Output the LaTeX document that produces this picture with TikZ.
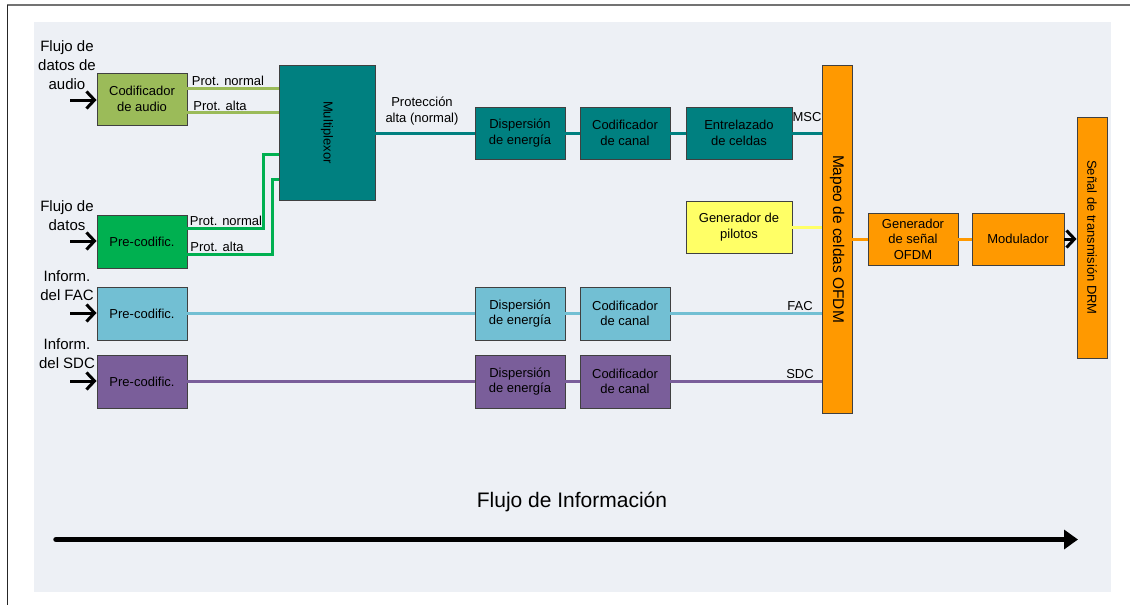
\documentclass[tikz,border=0pt]{standalone}
\usepackage{fontspec}
\setmainfont{Liberation Sans}
\usetikzlibrary{arrows.meta}
\definecolor{bgc}{HTML}{EDF0F5}
\definecolor{olive}{HTML}{9BBB59}
\definecolor{grn}{HTML}{00B050}
\definecolor{teal}{HTML}{008080}
\definecolor{lblue}{HTML}{72BFD3}
\definecolor{purp}{HTML}{7A5E9A}
\definecolor{orng}{HTML}{FF9900}
\definecolor{yell}{HTML}{FFFF66}
\tikzset{
  blk/.style={draw=black!75, line width=0.9pt, align=center, inner sep=0pt,
    minimum width=90pt, minimum height=52pt, font=\fontsize{13}{15.5}\selectfont},
  lbl/.style={font=\fontsize{13}{15.5}\selectfont, inner sep=0pt, align=center},
  inlbl/.style={font=\fontsize{15}{19}\selectfont, inner sep=0pt, align=center},
  conn/.style={line width=3pt},
  inarrow/.style={line width=3pt, -{Straight Barb[length=8pt,width=17pt,line width=3pt]}},
}
\begin{document}
\begin{tikzpicture}[x=1pt,y=-1pt]
\useasboundingbox (0,0) rectangle (1130,605);
% frame and background
\fill[bgc] (34,22) rectangle (1111,592);
\draw[black!55, line width=2pt] (7,5) -- (1130,5);
\draw[black!85, line width=1pt] (7,5) -- (7,605);

% boxes
\node[blk, fill=olive] (aud) at (142,99) {Codificador\\de audio};
\node[blk, fill=teal, minimum width=96pt, minimum height=135pt] (mux) at (327,132.5)
  {\rotatebox{-90}{\fontsize{13}{15}\selectfont Multiplexor}};
\node[blk, fill=grn, minimum height=53pt] (pcd) at (142,241.5) {Pre-codific.};
\node[blk, fill=lblue, minimum height=53pt] (pcf) at (142,313.5) {Pre-codific.};
\node[blk, fill=purp, minimum height=53pt] (pcs) at (142,381.5) {Pre-codific.};

\node[blk, fill=teal] (de1) at (520,133) {Dispersión\\de energía};
\node[blk, fill=teal] (cc1) at (625,133) {Codificador\\de canal};
\node[blk, fill=teal, minimum width=106pt] (ent) at (739,133) {Entrelazado\\de celdas};

\node[blk, fill=yell, minimum width=106pt] (pil) at (739,227) {Generador de\\pilotos};

\node[blk, fill=lblue, minimum height=53pt] (de2) at (520,313.5) {Dispersión\\de energía};
\node[blk, fill=lblue, minimum height=53pt] (cc2) at (625,313.5) {Codificador\\de canal};
\node[blk, fill=purp, minimum height=53pt] (de3) at (520,381.5) {Dispersión\\de energía};
\node[blk, fill=purp, minimum height=53pt] (cc3) at (625,381.5) {Codificador\\de canal};

\node[blk, fill=orng, minimum width=30pt, minimum height=348pt] (map) at (837,239)
  {\rotatebox{-90}{\fontsize{15.5}{18}\selectfont Mapeo de celdas OFDM}};
\node[blk, fill=orng] (gen) at (913,239) {Generador\\de señal\\OFDM};
\node[blk, fill=orng, minimum width=92pt] (mod) at (1018,239) {Modulador};
\node[blk, fill=orng, minimum width=30pt, minimum height=241pt] (drm) at (1092,237.5)
  {\rotatebox{-90}{\fontsize{13}{15}\selectfont Señal de transmisión DRM}};

% input labels
\node[inlbl] (l1) at (67,65) {Flujo de\\datos de\\audio};
\node[inlbl] (l2) at (67,215.5) {Flujo de\\datos};
\node[inlbl] (l3) at (67,286) {Inform.\\del FAC};
\node[inlbl] (l4) at (67,353.5) {Inform.\\del SDC};

% input arrows
\coordinate (i1) at (70,100);
\coordinate (i2) at (70,241);
\coordinate (i3) at (70,313);
\coordinate (i4) at (70,381);
\draw[inarrow] (i1) -- (aud.west |- i1);
\draw[inarrow] (i2) -- (pcd.west |- i2);
\draw[inarrow] (i3) -- (pcf.west |- i3);
\draw[inarrow] (i4) -- (pcs.west |- i4);

% audio connectors
\draw[conn, olive] (aud.east |- 0,88) -- (mux.west |- 0,88);
\draw[conn, olive] (aud.east |- 0,112) -- (mux.west |- 0,112);
\node[lbl] (pn1) at (228,81) {Prot. normal};
\node[lbl] (pa1) at (220,106) {Prot. alta};

% data connectors
\draw[conn, grn] (pcd.east |- 0,228) -- (263,228) -- (263,154) -- (mux.west |- 0,154);
\draw[conn, grn] (pcd.east |- 0,254) -- (272,254) -- (272,179) -- (mux.west |- 0,179);
\node[lbl] (pn2) at (226,221) {Prot. normal};
\node[lbl] (pa2) at (217,247) {Prot. alta};

% MSC path
\draw[conn, teal] (mux.east |- de1) -- (de1);
\draw[conn, teal] (de1) -- (cc1);
\draw[conn, teal] (cc1) -- (ent);
\draw[conn, teal] (ent) -- (map.west |- ent);
\node[lbl] (pr) at (422,111) {Protección\\alta (normal)};
\node[lbl] (msc) at (807,117) {MSC};

% pilots
\draw[conn, yell] (pil) -- (map.west |- pil);

% FAC path
\draw[conn, lblue] (pcf) -- (de2);
\draw[conn, lblue] (de2) -- (cc2);
\draw[conn, lblue] (cc2) -- (map.west |- cc2);
\node[lbl] (fac) at (800,306) {FAC};

% SDC path
\draw[conn, purp] (pcs) -- (de3);
\draw[conn, purp] (de3) -- (cc3);
\draw[conn, purp] (cc3) -- (map.west |- cc3);
\node[lbl] (sdc) at (800,374) {SDC};

% OFDM chain
\draw[conn, orng] (map.east |- gen) -- (gen);
\draw[conn, orng] (gen) -- (mod);
\draw[inarrow] (mod) -- (drm.west |- mod);

% information flow
\node[font=\fontsize{21}{24}\selectfont, inner sep=0pt] (fi) at (572,502) {Flujo de Información};
\coordinate (fa) at (56,539.5);
\coordinate (fb) at (1078,539.5);
\draw[line width=5.5pt, line cap=round, -{Triangle[length=14pt,width=19pt]}] (fa) -- (fb);
\end{tikzpicture}
\end{document}
